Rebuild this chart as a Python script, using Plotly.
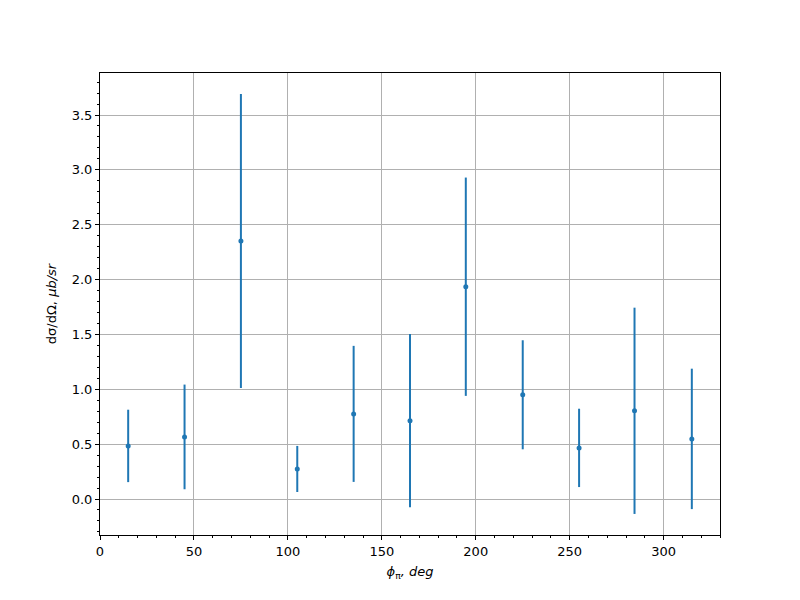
import plotly.graph_objects as go

phi = [15, 45, 75, 105, 135, 165, 194.7, 225, 255, 284.5, 315]
xsec = [0.484, 0.566, 2.352, 0.274, 0.776, 0.714, 1.935, 0.950, 0.466, 0.804, 0.548]
err = [0.33, 0.477, 1.34, 0.21, 0.62, 0.79, 0.995, 0.497, 0.357, 0.94, 0.64]

color = "#1f77b4"
font = dict(family="DejaVu Sans", size=13, color="black")

fig = go.Figure()
fig.add_trace(go.Scatter(
    x=phi, y=xsec, mode="markers",
    marker=dict(color=color, size=5),
    error_y=dict(type="data", array=err, visible=True, color=color, thickness=2, width=0),
    showlegend=False,
))

axis_common = dict(
    showline=True, linecolor="black", linewidth=1, mirror=True,
    ticks="outside", ticklen=4, tickwidth=1, tickcolor="black",
    showgrid=True, gridcolor="#b0b0b0", gridwidth=1,
    zeroline=False, tickfont=font,
)

fig.update_xaxes(
    range=[0, 330], tickmode="linear", tick0=0, dtick=50,
    minor=dict(ticks="outside", ticklen=2, tickcolor="black", dtick=10, tick0=0, showgrid=False),
    title=dict(text="<i>ϕ</i><sub>π</sub><i>, deg</i>", font=font, standoff=9),
    **axis_common,
)
fig.update_yaxes(
    range=[-0.328, 3.883], tickmode="linear", tick0=0, dtick=0.5, tickformat=".1f",
    minor=dict(ticks="outside", ticklen=2, tickcolor="black", dtick=0.1, tick0=0, showgrid=False),
    title=dict(text="dσ/dΩ, <i>μb/sr</i>", font=font, standoff=12),
    **axis_common,
)

fig.update_layout(
    width=800, height=600,
    margin=dict(l=92, r=88, t=65, b=73),
    plot_bgcolor="white", paper_bgcolor="white",
    font=font,
)

fig.write_html("out.html")
